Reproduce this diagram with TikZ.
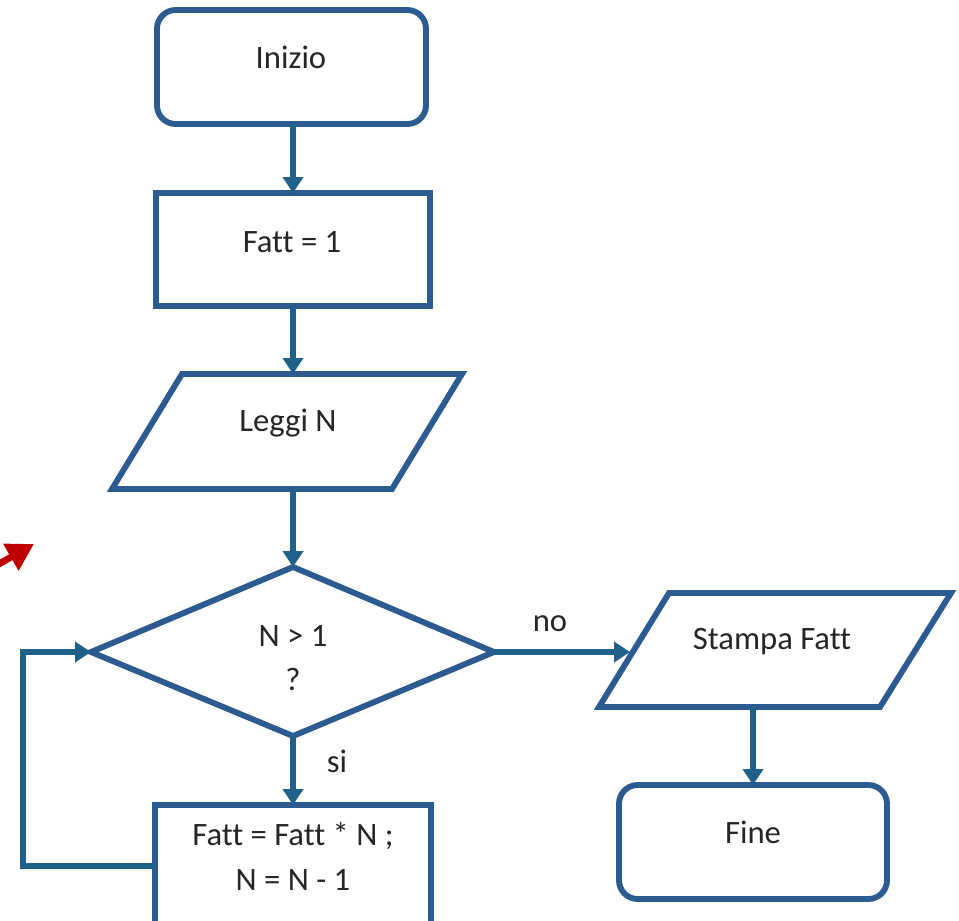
\documentclass[tikz,border=0pt]{standalone}
\usepackage{fontspec}
\setmainfont{Carlito}[Ligatures=NoCommon]
\usetikzlibrary{arrows.meta,shapes.geometric}
\definecolor{boxblue}{HTML}{2C5B92}
\definecolor{flowblue}{HTML}{1F6189}
\definecolor{markred}{HTML}{C00000}
\begin{document}
\begin{tikzpicture}[x=0.75pt,y=-0.75pt,
  shapeline/.style={draw=boxblue,line width=4.4pt,fill=white},
  startstop/.style={shapeline,rounded corners=14pt},
  procbox/.style={shapeline},
  flow/.style={draw=flowblue,line width=3.8pt,-{Triangle[length=12pt,width=15pt]}},
  lbl/.style={font=\fontsize{24.5}{28}\selectfont,text=black!85}
]
\useasboundingbox (0,0) rectangle (959,920);

% start terminal
\draw[startstop] (157,10) rectangle (426,124);
\coordinate (inizioB) at (293,124);
\node[lbl] (inizio) at (291,57) {Inizio};

% initialisation
\draw[procbox] (156,193) rectangle (430,306);
\coordinate (fattT) at (293,193);
\coordinate (fattB) at (293,306);
\node[lbl] (fatt) at (292,242) {Fatt = 1};

% input
\draw[shapeline] (182,374) -- (462,374) -- (392,489) -- (112,489) -- cycle;
\coordinate (leggiT) at (293,374);
\coordinate (leggiB) at (293,489);
\node[lbl] (leggi) at (288,423) {Leggi N};

% decision
\draw[shapeline] (91,652) -- (293,567) -- (494,652) -- (293,736) -- cycle;
\coordinate (decL) at (91,652);
\coordinate (decT) at (293,567);
\coordinate (decR) at (494,652);
\coordinate (decB) at (293,736);
\node[lbl] (cond) at (293,636) {N > 1};
\node[lbl] (qm) at (293,679) {?};

% loop body
\draw[procbox] (155,805) rectangle (431,925);
\coordinate (bodyT) at (293,805);
\coordinate (bodyL) at (155,866);
\node[lbl] (body1) at (293,836) {Fatt = Fatt * N ;};
\node[lbl] (body2) at (293,880) {N = N - 1};

% output
\draw[shapeline] (669,593) -- (951,593) -- (880,707) -- (599,707) -- cycle;
\coordinate (stampaL) at (630,652);
\coordinate (stampaB) at (753,707);
\node[lbl] (stampa) at (772,642) {Stampa Fatt};

% end terminal
\draw[startstop] (619,785) rectangle (887,899);
\coordinate (fineT) at (753,785);
\node[lbl] (fine) at (753,832) {Fine};

% connectors
\draw[flow] (inizioB) -- (fattT);
\draw[flow] (fattB) -- (leggiT);
\draw[flow] (leggiB) -- (decT);
\draw[flow] (decR) -- (stampaL);
\node[lbl] (no) at (550,624) {no};
\draw[flow] (stampaB) -- (fineT);
\draw[flow] (decB) -- (bodyT);
\node[lbl] (si) at (337,761) {si};
\coordinate (loopBL) at (23,866);
\coordinate (loopTL) at (23,652);
\draw[flow] (bodyL) -- (loopBL) -- (loopTL) -- (decL);

% red pointer
\coordinate (redTail) at (-8,568);
\coordinate (redTip) at (34,544);
\draw[draw=markred,line width=5pt,-{Triangle[length=20pt,width=22pt]}] (redTail) -- (redTip);
\end{tikzpicture}
\end{document}
